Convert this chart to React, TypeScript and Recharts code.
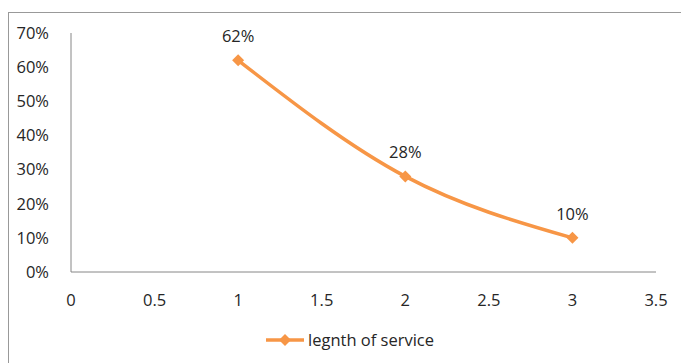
import { LineChart, Line, XAxis, YAxis, LabelList, Legend } from 'recharts';

const xValues = [1, 2, 3];
const shares = [0.62, 0.28, 0.1];
const xTicks = [0, 0.5, 1, 1.5, 2, 2.5, 3, 3.5];
const yTicks = [0, 0.1, 0.2, 0.3, 0.4, 0.5, 0.6, 0.7];
const seriesName = 'legnth of service';

const data = xValues.map((x, i) => ({ x, value: shares[i] }));

const ORANGE = '#F79646';
const FONT = '"Open Sans", sans-serif';
const pct = (v: number) => `${Math.round(v * 100)}%`;

const Diamond = (props: any) => {
  const { cx, cy } = props;
  if (cx == null || cy == null) return null;
  const r = 6;
  return (
    <polygon
      points={`${cx},${cy - r} ${cx + r},${cy} ${cx},${cy + r} ${cx - r},${cy}`}
      fill={ORANGE}
    />
  );
};

const LegendContent = () => (
  <div style={{ display: 'flex', alignItems: 'center', fontFamily: FONT, fontSize: 16.5, color: '#262626' }}>
    <svg width={40} height={14}>
      <line x1={0} y1={7} x2={38} y2={7} stroke={ORANGE} strokeWidth={3.5} />
      <polygon points="19,1 25,7 19,13 13,7" fill={ORANGE} />
    </svg>
    <span style={{ marginLeft: 2 }}>{seriesName}</span>
  </div>
);

const App = () => {
  return (
    <div style={{ position: 'absolute', left: 0, top: 0, width: 681, height: 363, background: '#fff' }}>
      <div
        style={{
          position: 'absolute',
          left: 8,
          top: 12,
          width: 673,
          height: 351,
          borderTop: '1px solid #999',
          borderLeft: '1px solid #999',
        }}
      />
      <div style={{ position: 'absolute', left: 0, top: 0 }}>
        <LineChart width={681} height={363} data={data} margin={{ top: 33, right: 25, left: 11, bottom: 41 }}>
          <XAxis
            dataKey="x"
            type="number"
            domain={[0, 3.5]}
            ticks={xTicks}
            tickLine={false}
            axisLine={{ stroke: '#868686' }}
            tick={{ fill: '#262626', fontSize: 16.5, fontFamily: FONT }}
            tickMargin={16}
            height={30}
          />
          <YAxis
            type="number"
            domain={[0, 0.7]}
            ticks={yTicks}
            tickFormatter={pct}
            tickLine={false}
            axisLine={{ stroke: '#868686' }}
            tick={{ fill: '#262626', fontSize: 16.5, fontFamily: FONT }}
            tickMargin={16}
            width={60}
          />
          <Legend
            content={<LegendContent />}
            wrapperStyle={{ position: 'absolute', left: 266, top: 328, width: 200, height: 20 }}
          />
          <Line
            type="monotone"
            dataKey="value"
            name={seriesName}
            stroke={ORANGE}
            strokeWidth={3.5}
            dot={<Diamond />}
            activeDot={false}
            isAnimationActive={false}
          >
            <LabelList
              dataKey="value"
              position="top"
              offset={18}
              formatter={(v: any) => pct(Number(v))}
              style={{ fill: '#262626', fontSize: 16.5, fontFamily: FONT }}
            />
          </Line>
        </LineChart>
      </div>
    </div>
  );
};

export default App;
